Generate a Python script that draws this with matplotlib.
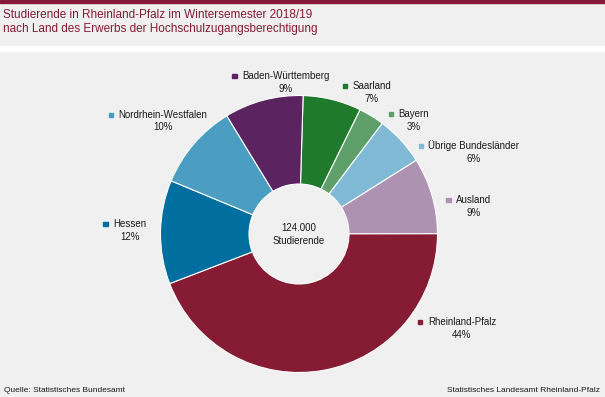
import matplotlib.pyplot as plt
from matplotlib.patches import Rectangle

plt.rcParams['font.family'] = ['Liberation Sans', 'DejaVu Sans']

# shares in percent, clockwise from the top
laender = ['Saarland', 'Bayern', 'Übrige Bundesländer', 'Ausland',
           'Rheinland-Pfalz', 'Hessen', 'Nordrhein-Westfalen', 'Baden-Württemberg']
anteile = [6.8, 3.0, 5.8, 8.9, 44.2, 12.1, 10.0, 9.2]
farben = ['#1f7a2c', '#5e9f6a', '#80bad6', '#ad92b1',
          '#861c33', '#006f9f', '#4b9ec1', '#5b2461']
gesamt = '124.000'

titel = ['Studierende in Rheinland-Pfalz im Wintersemester 2018/19',
         'nach Land des Erwerbs der Hochschulzugangsberechtigung']
quelle = 'Quelle: Statistisches Bundesamt'
herausgeber = 'Statistisches Landesamt Rheinland-Pfalz'

# label layout (pixel positions of the name line centre)
label_pos = [(372, 86), (414, 114), (474, 146), (474, 200),
             (462, 322), (130, 224), (163, 115), (286, 76)]

W, H = 605, 397
bg = '#eff0ef'
maroon = '#86193a'

fig = plt.figure(figsize=(W / 100, H / 100), dpi=100, facecolor=bg)
ax = fig.add_axes([0, 0, 1, 1])
ax.set_facecolor(bg)

# pie in pixel coordinates (y axis inverted -> counterclock=True is visually clockwise)
wedges, _ = ax.pie(anteile, colors=farben, startangle=-90 + 1.7, counterclock=True,
                   center=(299, 234), radius=138.5,
                   wedgeprops=dict(width=88.5, edgecolor='white', linewidth=0.8))
ax.set_xlim(0, W)
ax.set_ylim(H, 0)
ax.set_aspect('auto')
ax.axis('off')

# frame lines
ax.add_patch(Rectangle((0, 0), W, 2.5, color=maroon, zorder=5))
ax.add_patch(Rectangle((0, 46), W, 5, color='white', zorder=5))

ax.text(3, 15, titel[0], fontsize=8.5, color=maroon, va='center', ha='left')
ax.text(3, 29, titel[1], fontsize=8.5, color=maroon, va='center', ha='left')

ax.text(299, 228, gesamt, fontsize=7, ha='center', va='center', color='#1a1a1a')
ax.text(299, 241, 'Studierende', fontsize=7, ha='center', va='center', color='#1a1a1a')

fig.canvas.draw()
renderer = fig.canvas.get_renderer()
for name, wert, farbe, (x, y) in zip(laender, anteile, farben, label_pos):
    t = ax.text(x, y, name, fontsize=7, ha='center', va='center', color='#1a1a1a')
    ax.text(x, y + 12.5, f'{round(wert)}%', fontsize=7, ha='center', va='center',
            color='#1a1a1a')
    bb = t.get_window_extent(renderer)
    left = bb.x0
    ax.add_patch(Rectangle((left - 10, y - 2.5), 4.5, 4.5, color=farbe))

ax.text(4, 390, quelle, fontsize=6, ha='left', va='center', color='#1a1a1a')
ax.text(600, 390, herausgeber, fontsize=6, ha='right', va='center', color='#1a1a1a')

fig.savefig('out.png', dpi=100, facecolor=bg)
